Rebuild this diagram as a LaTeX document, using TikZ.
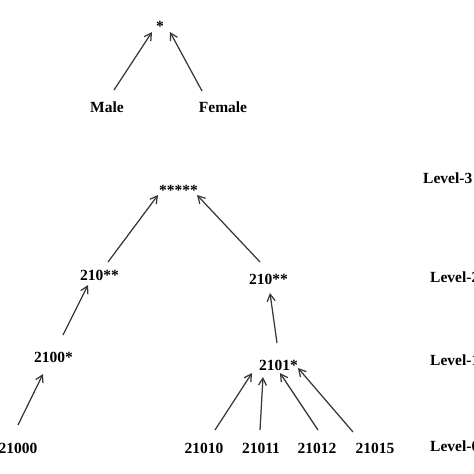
\documentclass[tikz,border=0pt]{standalone}
\usepackage{fontspec}
\setmainfont{Liberation Serif}
\usetikzlibrary{arrows.meta,calc}
\begin{document}
\begin{tikzpicture}[x=1pt,y=-1pt,
  lbl/.style={font=\fontsize{15.5}{17}\selectfont\bfseries, inner sep=0pt, anchor=base, text=black},
  lvl/.style={lbl, anchor=base west},
  arr/.style={draw=black!78, line width=1.25pt, -{Straight Barb[length=7pt,width=8pt,line width=1.25pt]}}]
\useasboundingbox (0,0) rectangle (474,474);
\clip (0,0) rectangle (474,474);
% nodes
\node[lbl] (star) at (160,31) {*};
\node[lbl] (male) at (107,112) {Male};
\node[lbl] (female) at (223,112) {Female};
\node[lbl] (s5) at (178.5,195) {*****};
\node[lbl] (l210) at (99.5,280) {210**};
\node[lbl] (r210) at (268.5,284) {210**};
\node[lbl] (n2100) at (53.5,362) {2100*};
\node[lbl] (n2101) at (278.5,370) {2101*};
\node[lbl] (n21000) at (18,453) {21000};
\node[lbl] (n21010) at (204,453) {21010};
\node[lbl] (n21011) at (261,453) {21011};
\node[lbl] (n21012) at (317,453) {21012};
\node[lbl] (n21015) at (375,453) {21015};
\node[lvl] (lv3) at (423,183) {Level-3};
\node[lvl] (lv2) at (430,282) {Level-2};
\node[lvl] (lv1) at (430,365) {Level-1};
\node[lvl] (lv0) at (430,451) {Level-0};
% connectors
\draw[arr] ($(male.base)+(7,-22)$) -- ($(star.base)+(-8,1)$);
\draw[arr] ($(female.base)+(-21,-21)$) -- ($(star.base)+(10,1)$);
\draw[arr] ($(l210.base)+(8.5,-18)$) -- ($(s5.base)+(-20.5,0)$);
\draw[arr] ($(r210.base)+(-8.5,-22)$) -- ($(s5.base)+(18.5,0)$);
\draw[arr] ($(n2100.base)+(9.5,-27)$) -- ($(l210.base)+(-11.5,5)$);
\draw[arr] ($(n2101.base)+(-1.5,-27)$) -- ($(r210.base)+(1.5,9)$);
\draw[arr] ($(n21000.base)+(0,-28)$) -- ($(n2100.base)+(-10.5,12)$);
\draw[arr] ($(n21010.base)+(11,-23)$) -- ($(n2101.base)+(-26.5,3)$);
\draw[arr] ($(n21011.base)+(-1,-23)$) -- ($(n2101.base)+(-15.5,7)$);
\draw[arr] ($(n21012.base)+(1,-23)$) -- ($(n2101.base)+(1.5,3)$);
\draw[arr] ($(n21015.base)+(-22,-21)$) -- ($(n2101.base)+(19.5,-2)$);
\end{tikzpicture}
\end{document}
